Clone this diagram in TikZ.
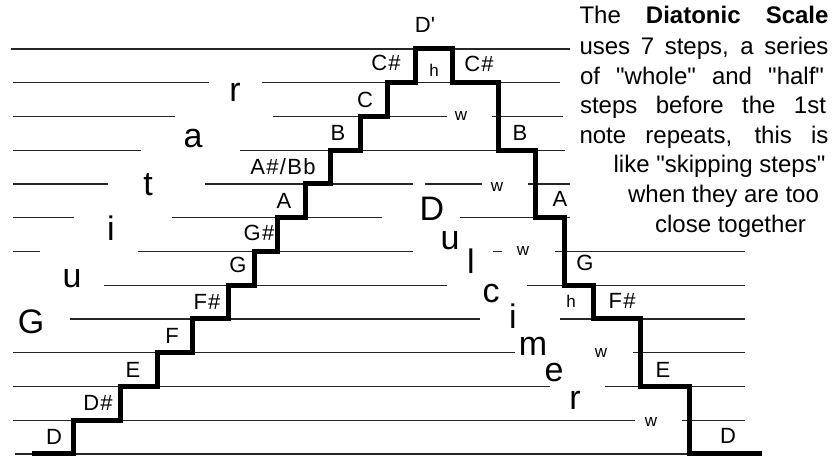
\documentclass[tikz,border=0pt]{standalone}
\usepackage{fontspec}
\setmainfont{Liberation Sans}
\newfontfamily\notafont[LetterSpace=6]{Liberation Sans}
\usepackage{tikz}

\tikzset{
    riga/.style = {line width = 1.4pt, black!85},
    scala/.style = {line width = 5pt, line join = miter},
    nota/.style = {inner sep = 0pt, font = \notafont\fontsize{22}{26}\selectfont},
    passo/.style = {inner sep = 0pt, font = \fontsize{17}{20}\selectfont},
    lettera/.style = {inner sep = 0pt, font = \fontsize{34}{40}\selectfont},
    testo/.style = {inner sep = 0pt, anchor = base, font = \fontsize{24}{28}\selectfont},
}

\begin{document}
\begin{tikzpicture}[x = 1pt, y = 33.75pt]
    \useasboundingbox (0,{-6/33.75}) rectangle (832,{454/33.75});
    % Righe (semitono / inizio / fine)
    \foreach \n/\a/\b in {12/11/570, 11/13/209, 11/262/560, 10/13/175, 10/273/447, 10/492/563,
                          9/13/141, 9/240/565, 8/13/108, 8/205/413, 8/425/482, 8/528/570,
                          7/13/74, 7/172/382, 7/460/570, 6/13/40, 6/138/413, 6/493/502, 6/555/745,
                          5/104/447, 5/527/745, 4/70/480, 4/560/745, 3/13/515, 3/633/745,
                          2/13/550, 2/605/745, 1/13/635, 1/682/745, 0/15/700} {
        \draw[riga] (\a,\n) -- (\b,\n);
    }
    % Scala
    \draw[scala] (32,0) -| (73,1) -| (120,2) -| (157,3) -| (192,4) -| (228,5) -| (254,6)
        -| (277,7) -| (305,8) -| (330,9) -| (360,10) -| (387,11) -| (415,12)
        -| (452,11) -| (498,9) -| (535,7) -| (564,5) -| (593,4) -| (640,2) -| (689,0) -- (762,0);
    % Note (salita)
    \node[nota] (re) at (54,0.5) {D};
    \node[nota] (reD) at (98,1.5) {D\#};
    \node[nota] (mi) at (133,2.5) {E};
    \node[nota] (fa) at (172,3.5) {F};
    \node[nota] (faD) at (207,4.5) {F\#};
    \node[nota] (sol) at (238,5.6) {G};
    \node[nota] (solD) at (259,6.55) {G\#};
    \node[nota] (la) at (284,7.5) {A};
    \node[nota] (laD) at (283,8.5) {A\#/Bb};
    \node[nota] (si) at (338,9.5) {B};
    \node[nota] (do) at (365,10.5) {C};
    \node[nota] (doD) at (386,11.6) {C\#};
    \node[nota] (reAlto) at (425,12.71) {D\textquotesingle};
    % Note (discesa)
    \node[passo] (h1) at (434,11.38) {h};
    \node[nota] (doD2) at (479,11.55) {C\#};
    \node[passo] (w1) at (461,10.0) {w};
    \node[nota] (si2) at (520,9.5) {B};
    \node[passo] (w2) at (497,7.9) {w};
    \node[nota] (la2) at (560,7.55) {A};
    \node[passo] (w3) at (523,6.0) {w};
    \node[nota] (sol2) at (585,5.66) {G};
    \node[passo] (h2) at (571,4.53) {h};
    \node[nota] (faD2) at (622,4.53) {F\#};
    \node[passo] (w4) at (601,2.98) {w};
    \node[nota] (mi2) at (663,2.5) {E};
    \node[passo] (w5) at (651,0.95) {w};
    \node[nota] (re2) at (728,0.53) {D};
    % Guitar
    \node[lettera] (g1) at (31,3.91) {G};
    \node[lettera] (g2) at (72,5.19) {u};
    \node[lettera] (g3) at (111,6.68) {i};
    \node[lettera] (g4) at (148,7.99) {t};
    \node[lettera] (g5) at (193,9.36) {a};
    \node[lettera] (g6) at (235,10.73) {r};
    % Dulcimer
    \node[lettera] (d1) at (432,7.27) {D};
    \node[lettera] (d2) at (450,6.31) {u};
    \node[lettera] (d3) at (471,5.72) {l};
    \node[lettera] (d4) at (491,4.76) {c};
    \node[lettera] (d5) at (513,4.09) {i};
    \node[lettera] (d6) at (533,3.2) {m};
    \node[lettera] (d7) at (554,2.41) {e};
    \node[lettera] (d8) at (575,1.6) {r};
    % Testo
    \node[testo] (t1) at (704,12.77) {\makebox[249pt][s]{The \textbf{Diatonic} \textbf{Scale}}};
    \node[testo] (t2) at (704,11.85) {\makebox[249pt][s]{uses 7 steps, a series}};
    \node[testo] (t3) at (702,10.96) {\makebox[244pt][s]{of \textquotedbl whole\textquotedbl{} and \textquotedbl half\textquotedbl}};
    \node[testo] (t4) at (703,10.10) {\makebox[246pt][s]{steps before the 1st}};
    \node[testo] (t5) at (704,9.21) {\makebox[249pt][s]{note repeats, this is}};
    \node[testo] (t6) at (719.5,8.33) {like \textquotedbl skipping steps\textquotedbl};
    \node[testo] (t7) at (723.5,7.44) {when they are too};
    \node[testo] (t8) at (730.5,6.55) {close together};
\end{tikzpicture}
\end{document}
